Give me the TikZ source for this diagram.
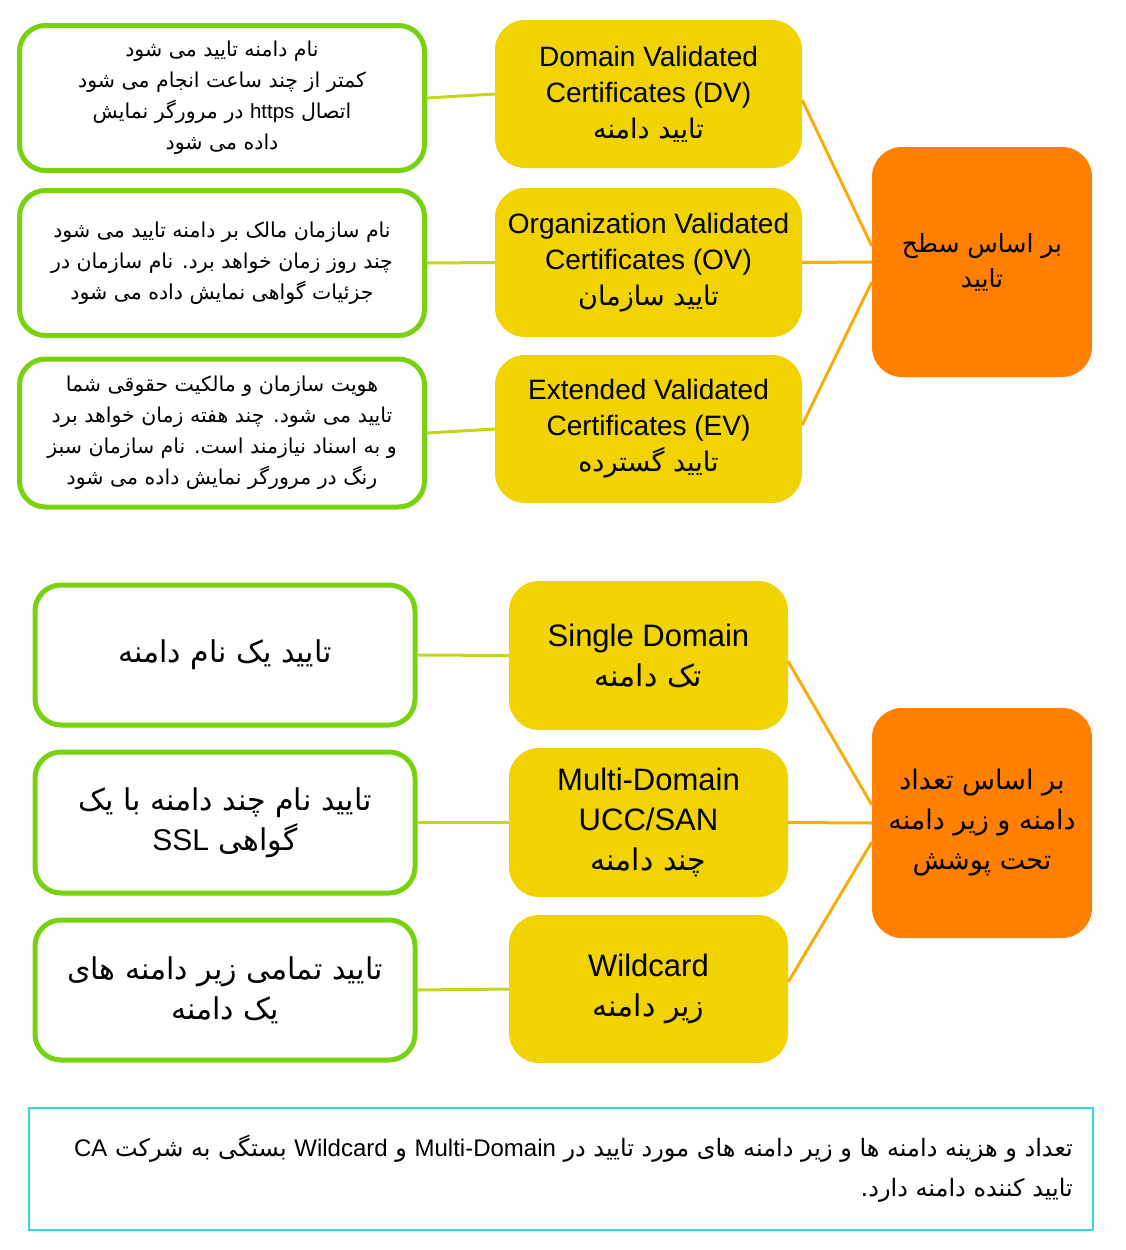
\documentclass[tikz,border=0pt]{standalone}
\usepackage{fontspec}
\setmainfont{Liberation Sans}
\newfontfamily\fa[Script=Arabic]{DejaVu Sans}
\TeXXeTstate=1
\newcommand{\faline}[1]{{\fa\beginR #1\endR}}
\newcommand{\enw}[1]{\beginL{\rmfamily #1}\endL}
\definecolor{gborder}{RGB}{120,210,16}
\definecolor{yellowc}{RGB}{240,211,0}
\definecolor{orangec}{RGB}{255,128,0}
\definecolor{glinec}{RGB}{196,214,28}
\definecolor{olinec}{RGB}{245,172,12}
\definecolor{cyanc}{RGB}{52,214,214}
\begin{document}
\begin{tikzpicture}[x=1pt,y=-1pt,
  gbox/.style={draw=gborder, line width=5pt, rounded corners=26pt, fill=white,
    minimum width=405pt, minimum height=145pt, align=center, inner sep=0pt,
    font={\fa\fontsize{20.5}{31}\selectfont}},
  gboxb/.style={gbox, minimum width=380pt, minimum height=140pt,
    font={\fa\fontsize{30}{40}\selectfont}},
  ybox/.style={fill=yellowc, rounded corners=30pt, minimum width=307pt,
    minimum height=148pt, align=center, inner sep=0pt,
    font={\fontsize{28}{36}\selectfont}},
  yboxb/.style={ybox, minimum width=279pt, minimum height=149pt,
    font={\fontsize{31}{40}\selectfont}},
  obox/.style={fill=orangec, rounded corners=30pt, minimum width=220pt,
    minimum height=230pt, align=center, inner sep=0pt},
  gline/.style={draw=glinec, line width=3pt},
  oline/.style={draw=olinec, line width=3pt},
  notebox/.style={draw=cyanc, line width=2.5pt, minimum width=1064pt,
    minimum height=122pt},
  notetext/.style={align=right, inner sep=0pt, font={\fa\fontsize{24}{40}\selectfont}}
]
\useasboundingbox (0,0) rectangle (1125,1250);

% ---- top group ----
\node[gbox] (g1) at (222,98) {\faline{نام دامنه تایید می شود}\\
  \faline{کمتر از چند ساعت انجام می شود}\\
  \faline{اتصال \enw{https} در مرورگر نمایش}\\
  \faline{داده می شود}};
\node[gbox] (g2) at (222,263) {\faline{نام سازمان مالک بر دامنه تایید می شود}\\
  \faline{چند روز زمان خواهد برد. نام سازمان در}\\
  \faline{جزئیات گواهی نمایش داده می شود}};
\node[gbox, minimum height=148pt] (g3) at (222,433) {\faline{هویت سازمان و مالکیت حقوقی شما}\\
  \faline{تایید می شود. چند هفته زمان خواهد برد}\\
  \faline{و به اسناد نیازمند است. نام سازمان سبز}\\
  \faline{رنگ در مرورگر نمایش داده می شود}};

\node[ybox] (dv) at (648.5,94) {\raisebox{0pt}[0pt][0pt]{}Domain Validated\\Certificates (DV)\\
  {\fa\fontsize{27}{36}\selectfont\beginR تایید دامنه\endR}};
\node[ybox, minimum height=149pt] (ov) at (648.5,262.5) {Organization Validated\\Certificates (OV)\\
  {\fa\fontsize{27}{36}\selectfont\beginR تایید سازمان\endR}};
\node[ybox] (ev) at (648.5,429) {Extended Validated\\Certificates (EV)\\
  {\fa\fontsize{27}{36}\selectfont\beginR تایید گسترده\endR}};

\node[obox, font={\fa\fontsize{25}{35}\selectfont}] (o1) at (982,262) {\faline{بر اساس سطح}\\\faline{تایید}};

\draw[gline] (g1.east) -- (dv.west);
\draw[gline] (g2.east) -- (ov.west);
\draw[gline] (g3.east) -- (ev.west);
\draw[oline] ([yshift=-6pt]dv.east) -- ([yshift=16pt]o1.west);
\draw[oline] (ov.east) -- (o1.west);
\draw[oline] ([yshift=4pt]ev.east) -- ([yshift=-20pt]o1.west);

% ---- bottom group ----
\node[gboxb] (g4) at (225,655) {\faline{تایید یک نام دامنه}};
\node[gboxb, minimum height=141pt] (g5) at (225,822.5) {\faline{تایید نام چند دامنه با یک}\\
  \faline{گواهی \enw{SSL}}};
\node[gboxb] (g6) at (225,990) {\faline{تایید تمامی زیر دامنه های}\\
  \faline{یک دامنه}};

\node[yboxb] (sd) at (648.5,655.5) {Single Domain\\
  {\fa\fontsize{30}{40}\selectfont\beginR تک دامنه\endR}};
\node[yboxb] (md) at (648.5,822.5) {Multi-Domain\\UCC/SAN\\
  {\fa\fontsize{30}{40}\selectfont\beginR چند دامنه\endR}};
\node[yboxb, minimum height=148pt] (wc) at (648.5,989) {Wildcard\\
  {\fa\fontsize{30}{40}\selectfont\beginR زیر دامنه\endR}};

\node[obox, font={\fa\fontsize{27}{40}\selectfont}] (o2) at (982,823) {\faline{بر اساس تعداد}\\\faline{دامنه و زیر دامنه}\\\faline{تحت پوشش}};

\draw[gline] (g4.east) -- (sd.west);
\draw[gline] (g5.east) -- (md.west);
\draw[gline] (g6.east) -- (wc.west);
\draw[oline] ([yshift=-6pt]sd.east) -- ([yshift=18pt]o2.west);
\draw[oline] (md.east) -- (o2.west);
\draw[oline] ([yshift=7pt]wc.east) -- ([yshift=-19pt]o2.west);

% ---- note ----
\node[notebox] (nb) at (561,1169) {};
\node[notetext, anchor=east] (nt) at (1073,1169) {\faline{تعداد و هزینه دامنه ها و زیر دامنه های مورد تایید در \enw{Multi-Domain} و \enw{Wildcard} بستگی به شرکت \enw{CA}}\\
  \faline{تایید کننده دامنه دارد.}};
\end{tikzpicture}
\end{document}
